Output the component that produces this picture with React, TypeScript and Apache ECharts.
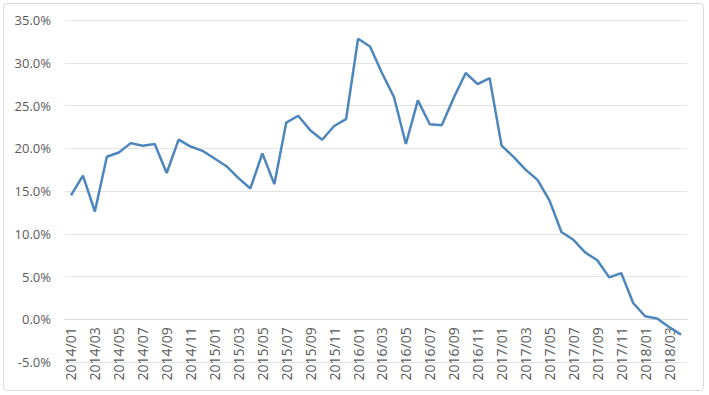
import React, { useEffect, useRef } from "react";
import * as echarts from "echarts";

const months: string[] = [
  "2014/01","2014/02","2014/03","2014/04","2014/05","2014/06","2014/07","2014/08","2014/09","2014/10","2014/11","2014/12",
  "2015/01","2015/02","2015/03","2015/04","2015/05","2015/06","2015/07","2015/08","2015/09","2015/10","2015/11","2015/12",
  "2016/01","2016/02","2016/03","2016/04","2016/05","2016/06","2016/07","2016/08","2016/09","2016/10","2016/11","2016/12",
  "2017/01","2017/02","2017/03","2017/04","2017/05","2017/06","2017/07","2017/08","2017/09","2017/10","2017/11","2017/12",
  "2018/01","2018/02","2018/03","2018/04",
];

const growth: number[] = [
  14.5, 16.8, 12.6, 19.0, 19.5, 20.6, 20.3, 20.5, 17.1, 21.0, 20.2, 19.7,
  18.8, 17.9, 16.5, 15.3, 19.4, 15.8, 23.0, 23.8, 22.1, 21.0, 22.6, 23.4,
  32.8, 31.9, 28.8, 26.0, 20.5, 25.6, 22.8, 22.7, 25.9, 28.8, 27.5, 28.2,
  20.3, 19.0, 17.5, 16.3, 13.9, 10.2, 9.3, 7.8, 6.9, 4.9, 5.4, 1.9,
  0.35, 0.1, -0.9, -1.8,
];

const Y_MIN = -5;
const Y_MAX = 35;
const GRID_TOP = 20;
const GRID_BOTTOM = 33;
const CHART_H = 395;

export default function App() {
  const ref = useRef<HTMLDivElement>(null);
  useEffect(() => {
    if (!ref.current) return;
    const chart = echarts.init(ref.current, undefined, { renderer: "svg" });
    const plotH = CHART_H - GRID_TOP - GRID_BOTTOM;
    const zeroOffset = (plotH * (0 - Y_MIN)) / (Y_MAX - Y_MIN);
    chart.setOption({
      animation: false,
      backgroundColor: "#ffffff",
      graphic: [
        {
          type: "rect",
          shape: { x: 3.5, y: 3.5, width: 700, height: 387, r: 3 },
          style: { fill: "none", stroke: "#d9d9d9", lineWidth: 1 },
          silent: true,
        },
      ],
      grid: {
        left: 65,
        right: 22,
        top: GRID_TOP,
        bottom: GRID_BOTTOM,
        containLabel: false,
        outerBoundsMode: "none",
      },
      xAxis: {
        type: "category",
        data: months,
        boundaryGap: true,
        offset: -zeroOffset,
        axisLine: { onZero: false, lineStyle: { color: "#d9d9d9", width: 1 } },
        axisTick: { show: false },
        axisLabel: {
          interval: 1,
          rotate: 90,
          margin: 8,
          color: "#595959",
          fontSize: 14,
          fontFamily: "Open Sans",
        },
      },
      yAxis: {
        type: "value",
        min: Y_MIN,
        max: Y_MAX,
        interval: 5,
        axisLine: { show: false },
        axisTick: { show: false },
        splitLine: { lineStyle: { color: "#e4e4e4", width: 1 } },
        axisLabel: {
          color: "#595959",
          fontSize: 13,
          margin: 14,
          fontFamily: "Open Sans",
          formatter: (v: number) => v.toFixed(1) + "%",
        },
      },
      series: [
        {
          type: "line",
          data: growth,
          symbol: "none",
          lineStyle: { color: "#4d86bd", width: 2.5 },
        },
      ],
    });
    return () => chart.dispose();
  }, []);
  return (
    <div
      ref={ref}
      style={{ position: "fixed", left: 0, top: 0, width: 709, height: 395 }}
    />
  );
}
